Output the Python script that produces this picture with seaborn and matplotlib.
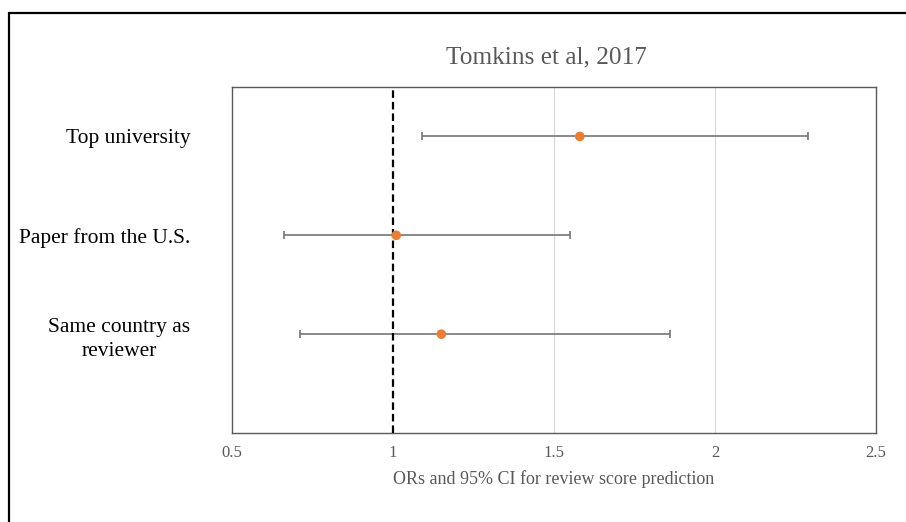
import matplotlib
matplotlib.use("Agg")
import matplotlib.pyplot as plt
import matplotlib.patches as mpatches
import pandas as pd
import seaborn as sns

# data
factors = ["Top university", "Paper from the U.S.", "Same country as\nreviewer"]
odds_ratio = [1.58, 1.01, 1.15]
ci_low = [1.09, 0.66, 0.71]
ci_high = [2.29, 1.55, 1.86]
row_pos = [3, 2, 1]
x_ticks = [0.5, 1, 1.5, 2, 2.5]
x_tick_labels = ["0.5", "1", "1.5", "2", "2.5"]

df = pd.DataFrame({"factor": factors, "OR": odds_ratio, "lo": ci_low,
                   "hi": ci_high, "pos": row_pos})

sns.set_theme(style="white")
plt.rcParams["font.family"] = ["Liberation Serif", "DejaVu Serif"]

fig = plt.figure(figsize=(9.06, 5.22), dpi=100)
ax = fig.add_axes([0.2561, 0.1705, 0.7108, 0.6628])

# outer frame of the slide
fig.patches.append(mpatches.Rectangle((0.0099, -0.05), 1.1, 1.025, transform=fig.transFigure,
                                      fill=False, edgecolor="black", linewidth=1.6))

for x in [1.5, 2]:
    ax.axvline(x, color="#d9d9d9", linewidth=0.8, zorder=0)

ax.errorbar(df["OR"], df["pos"],
            xerr=[df["OR"] - df["lo"], df["hi"] - df["OR"]],
            fmt="none", ecolor="#767676", elinewidth=1.2, capsize=3, capthick=1.2, zorder=2)

ax.axvline(1, color="black", linewidth=1.6, dashes=(3.4, 1.8), zorder=3)

sns.scatterplot(data=df, x="OR", y="pos", ax=ax, color="#ed7d31", s=48,
                edgecolor="none", zorder=4)

ax.set_xlim(0.5, 2.5)
ax.set_ylim(0, 3.5)
ax.set_xticks(x_ticks)
ax.set_xticklabels(x_tick_labels)
ax.set_yticks(row_pos)
ax.set_yticklabels(factors, fontsize=15.5, color="black", ha="right",
                   multialignment="center", linespacing=1.4)
ax.tick_params(axis="y", length=0, pad=30)
ax.tick_params(axis="x", length=0, pad=9, labelsize=12, labelcolor="#595959")

ax.set_xlabel("ORs and 95% CI for review score prediction", fontsize=13, color="#595959", labelpad=6)
ax.set_ylabel("")
ax.set_title("Tomkins et al, 2017", fontsize=18.3, color="#595959", pad=17, x=0.488)

for sp in ax.spines.values():
    sp.set_color("#595959")
    sp.set_linewidth(1.0)

fig.savefig("out.png", dpi=100)
